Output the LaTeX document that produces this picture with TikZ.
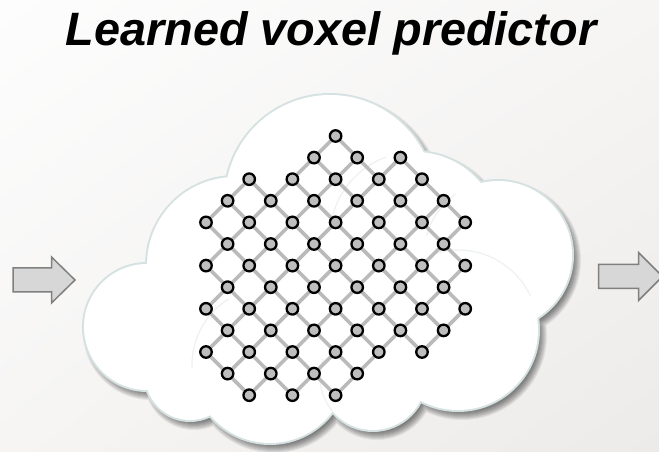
\documentclass[tikz,border=0pt]{standalone}
\usepackage{fontspec}
\setmainfont{Liberation Sans}
\usetikzlibrary{shadings}
\pgfdeclarelayer{back}
\pgfdeclarelayer{mid}
\pgfsetlayers{back,mid,main}

\definecolor{bgtop}{RGB}{253,253,253}
\definecolor{bgmid}{RGB}{246,245,244}
\definecolor{bgbot}{RGB}{237,235,234}
\definecolor{rim}{RGB}{214,226,226}
\definecolor{seam}{RGB}{237,241,241}
\definecolor{linkgray}{RGB}{186,186,186}
\definecolor{voxfill}{RGB}{190,190,190}
\definecolor{arrowfill}{RGB}{215,215,215}
\definecolor{arrowedge}{RGB}{128,128,128}

\tikzset{
  vox/.style={circle, draw=black, line width=2.3bp, fill=voxfill, minimum size=11.5bp, inner sep=0pt},
  link/.style={draw=linkgray, line width=3.6bp},
  rimline/.style={draw=rim, line width=4bp},
  seamline/.style={draw=seam, line width=1.2bp},
  blockarrow/.style={fill=arrowfill, draw=arrowedge, line width=1.5bp, line join=miter},
  titletext/.style={font=\fontsize{47}{56}\selectfont\bfseries\itshape, inner sep=0pt, anchor=base}
}

\begin{document}
\begin{tikzpicture}[x=1bp,y=-1bp]
\useasboundingbox (0,0) rectangle (659,452);
\clip (0,0) rectangle (659,452);

% cloud lobes: centre x / centre y / radius
\def\cloud{330/200/105, 235/265/88, 147/327/63, 190/375/45, 270/365/78, 373/377/53, 458/330/80, 498/255/74, 415/237/85}

\begin{pgfonlayer}{back}
  % page background
  \shade[upper left=bgtop, upper right=bgmid, lower left=bgmid, lower right=bgbot] (0,0) rectangle (659,452);
  % soft drop shadow of the cloud
  \foreach \d in {0,...,8} {
    \fill[black, opacity=0.065] \foreach \cx/\cy/\r in \cloud { (\cx+4,\cy+5) circle[radius=\r-3+\d] };
  }
  % rim of every lobe
  \foreach \cx/\cy/\r in \cloud { \draw[rimline] (\cx,\cy) circle[radius=\r]; }
  % white body
  \foreach \cx/\cy/\r in \cloud { \fill[white] (\cx,\cy) circle[radius=\r]; }
  \fill[white] (330,200) -- (415,237) -- (498,255) -- (458,330) -- (373,377) -- (270,365)
    -- (190,375) -- (147,327) -- (235,265) -- cycle;
  % faint inner seams between lobes
  \draw[seamline] (415,237) ++(190:85) arc[start angle=190, end angle=250, radius=85];
  \draw[seamline] (270,365) ++(178:78) arc[start angle=178, end angle=238, radius=78];
  \draw[seamline] (458,330) ++(250:80) arc[start angle=250, end angle=335, radius=80];
  \draw[seamline] (373,377) ++(140:53) arc[start angle=140, end angle=200, radius=53];
  \draw[seamline] (498,255) ++(195:74) arc[start angle=195, end angle=235, radius=74];
\end{pgfonlayer}

% title
\node[titletext] (title) at (331,45.5) {Learned voxel predictor};

% voxel lattice: row / columns present in that row
\foreach \r/\cols in {0/{6}, 1/{5,7,9}, 2/{2,4,6,8,10}, 3/{1,3,5,7,9,11},
    4/{0,2,4,6,8,10,12}, 5/{1,3,5,7,9,11}, 6/{0,2,4,6,8,10,12}, 7/{1,3,5,7,9,11},
    8/{0,2,4,6,8,10,12}, 9/{1,3,5,7,9,11}, 10/{0,2,4,6,8,10}, 11/{1,3,5,7}, 12/{2,4,6}} {
  \foreach \c in \cols {
    \node[vox] (v-\c-\r) at ({206+21.6*\c},{136+21.6*\r}) {};
  }
}

% diagonal links between neighbouring voxels
\begin{pgfonlayer}{mid}
\foreach \r in {0,...,11} {
  \foreach \c in {0,...,12} {
    \pgfmathtruncatemacro\rN{\r+1}
    \pgfmathtruncatemacro\cR{\c+1}
    \pgfmathtruncatemacro\cL{\c-1}
    \ifcsname pgf@sh@ns@v-\c-\r\endcsname
      \ifcsname pgf@sh@ns@v-\cR-\rN\endcsname \draw[link] (v-\c-\r) -- (v-\cR-\rN); \fi
      \ifcsname pgf@sh@ns@v-\cL-\rN\endcsname \draw[link] (v-\c-\r) -- (v-\cL-\rN); \fi
    \fi
  }
}
\end{pgfonlayer}

% input and output block arrows
\draw[blockarrow] (13,268) -- (51.5,268) -- (51.5,257) -- (75,280) -- (51.5,303)
  -- (51.5,292) -- (13,292) -- cycle;
\draw[blockarrow] (598.5,264.5) -- (638.5,264.5) -- (638.5,252.5) -- (662.5,276.5)
  -- (638.5,300.5) -- (638.5,288.5) -- (598.5,288.5) -- cycle;
\end{tikzpicture}
\end{document}
